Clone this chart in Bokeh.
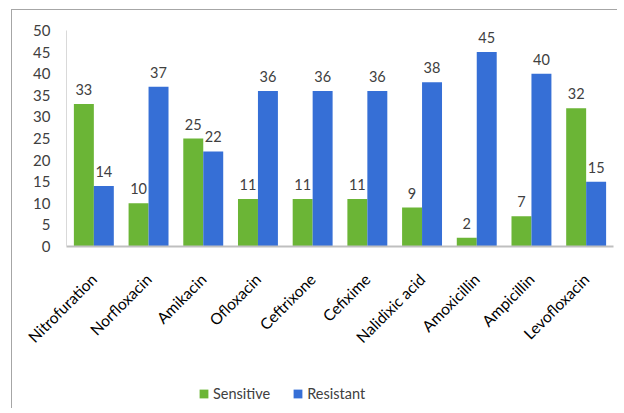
import math
from bokeh.plotting import figure
from bokeh.layouts import column
from bokeh.models import ColumnDataSource, FactorRange, Legend, LegendItem, LabelSet
from bokeh.core.properties import value
from bokeh.transform import dodge
from bokeh.embed import file_html
from bokeh.resources import INLINE

drugs = ["Nitrofuration", "Norfloxacin", "Amikacin", "Ofloxacin", "Ceftrixone",
         "Cefixime", "Nalidixic acid", "Amoxicillin", "Ampicillin", "Levofloxacin"]
sensitive = [33, 10, 25, 11, 11, 11, 9, 2, 7, 32]
resistant = [14, 37, 22, 36, 36, 36, 38, 45, 40, 15]
y_ticks = [0, 5, 10, 15, 20, 25, 30, 35, 40, 45, 50]
series_names = ["Sensitive", "Resistant"]

GREEN = "#6BB536"
BLUE = "#366FD6"
FONT = "Lato"

src = ColumnDataSource(dict(drug=drugs, sens=sensitive, res=resistant,
                            sens_t=[str(v) for v in sensitive],
                            res_t=[str(v) for v in resistant]))

p = figure(x_range=FactorRange(*drugs, range_padding=0), y_range=(0, 50),
           frame_width=547, frame_height=216, output_backend="svg", toolbar_location=None,
           min_border_left=54, min_border_right=4, min_border_top=20, min_border_bottom=122)
p.outline_line_color = None
p.grid.visible = False

bw = 0.365
r1 = p.vbar(x=dodge("drug", -bw / 2, range=p.x_range), top="sens", width=bw, source=src,
            fill_color=GREEN, line_color=None)
r2 = p.vbar(x=dodge("drug", bw / 2, range=p.x_range), top="res", width=bw, source=src,
            fill_color=BLUE, line_color=None)

for col, off in (("sens_t", -bw / 2), ("res_t", bw / 2)):
    top = "sens" if col == "sens_t" else "res"
    p.add_layout(LabelSet(x=dodge("drug", off, range=p.x_range), y=top, text=col, source=src,
                          text_align="center", text_baseline="bottom", y_offset=9,
                          text_font=value(FONT), text_font_size="14.5px", text_color="#404040"))

p.yaxis.ticker = y_ticks
p.yaxis.axis_line_color = "#D9D9D9"
p.yaxis.major_tick_line_color = None
p.yaxis.minor_tick_line_color = None
p.yaxis.major_tick_out = 0
p.yaxis.major_label_text_font = FONT
p.yaxis.major_label_text_font_size = "15px"
p.yaxis.major_label_text_color = "#404040"
p.yaxis.major_label_standoff = 16

p.xaxis.axis_line_color = "#BFBFBF"
p.xaxis.axis_line_width = 2
p.xaxis.major_tick_line_color = None
p.xaxis.minor_tick_line_color = None
p.xaxis.major_label_orientation = math.pi / 4
p.xaxis.major_label_text_font = FONT
p.xaxis.major_label_text_font_size = "15.5px"
p.xaxis.major_label_text_color = "#000000"
p.xaxis.major_label_standoff = 24

# legend strip below the chart (legend-only renderers: zero-size placeholders)
lf = figure(width=605, height=40, output_backend="svg", toolbar_location=None,
            min_border=0, x_range=(0, 1), y_range=(0, 1))
lf.axis.visible = False
lf.grid.visible = False
lf.outline_line_color = None
leg_src = ColumnDataSource(dict(x=[0], top=[0]))
g1 = lf.vbar(x="x", top="top", bottom=0, width=0, source=leg_src,
             fill_color=GREEN, line_color=None)
g2 = lf.vbar(x="x", top="top", bottom=0, width=0, source=leg_src,
             fill_color=BLUE, line_color=None)
legend = Legend(items=[LegendItem(label=series_names[0], renderers=[g1]),
                       LegendItem(label=series_names[1], renderers=[g2])],
                orientation="horizontal", location=(132, 6),
                label_text_font=FONT, label_text_font_size="14.5px", label_text_color="#404040",
                glyph_width=11, glyph_height=11, spacing=22, label_standoff=4,
                border_line_color=None, background_fill_alpha=0,
                margin=0, padding=0)
lf.add_layout(legend, "center")

layout = column(p, lf, spacing=0)
layout.margin = (9, 0, 0, 11)
layout.styles = {"border-top": "1px solid #A6A6A6", "border-left": "1px solid #A6A6A6"}

open("out.html", "w").write(file_html(layout, INLINE))
